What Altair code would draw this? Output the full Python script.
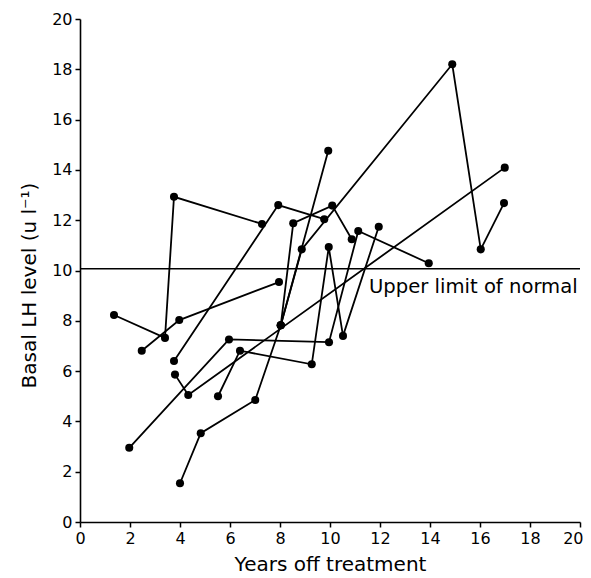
import altair as alt
import pandas as pd

# Each patient: years off treatment (x) and basal LH level (y)
p1_x = [1.36, 3.40, 3.76, 7.28]
p1_y = [8.23, 7.32, 12.93, 11.85]
p2_x = [2.47, 3.97, 7.96]
p2_y = [6.81, 8.03, 9.54]
p3_x = [3.76, 7.93, 9.77]
p3_y = [6.40, 12.60, 12.04]
p4_x = [3.80, 4.33, 16.99]
p4_y = [5.86, 5.05, 14.09]
p5_x = [1.97, 5.96, 9.96, 11.13, 13.95]
p5_y = [2.95, 7.26, 7.15, 11.57, 10.29]
p6_x = [5.52, 6.40, 9.27, 9.95, 10.52, 11.95]
p6_y = [5.00, 6.81, 6.27, 10.93, 7.40, 11.74]
p7_x = [4.00, 4.83, 7.01, 8.03, 9.93]
p7_y = [1.54, 3.53, 4.85, 7.82, 14.76]
p8_x = [8.03, 8.53, 10.09, 10.87]
p8_y = [7.82, 11.88, 12.58, 11.24]
p9_x = [8.03, 8.87, 14.89, 16.03, 16.96]
p9_y = [7.82, 10.84, 18.20, 10.84, 12.68]

upper_limit = 10.07
limit_label = "Upper limit of normal"
label_x = 11.56
label_y = 9.1
ticks = [0, 2, 4, 6, 8, 10, 12, 14, 16, 18, 20]

series = [("P1", p1_x, p1_y), ("P2", p2_x, p2_y), ("P3", p3_x, p3_y),
          ("P4", p4_x, p4_y), ("P5", p5_x, p5_y), ("P6", p6_x, p6_y),
          ("P7", p7_x, p7_y), ("P8", p8_x, p8_y), ("P9", p9_x, p9_y)]

rows = []
for pid, xs, ys in series:
    for i, (xv, yv) in enumerate(zip(xs, ys)):
        rows.append({"patient": pid, "step": i, "years": xv, "lh": yv})
df = pd.DataFrame(rows)

FONT = "DejaVu Sans"
xs_ = alt.Scale(domain=[0, 20], nice=False, zero=False)
ys_ = alt.Scale(domain=[0, 20], nice=False, zero=False)

axis_common = dict(values=ticks, grid=False, domainColor="black", domainWidth=1.6,
                   tickColor="black", tickWidth=1.5, tickSize=5,
                   labelFont=FONT, labelFontSize=16, labelColor="black",
                   titleFont=FONT, titleFontSize=20, titleFontWeight="normal",
                   titleColor="black", labelOverlap=False, labelFlush=False)

x_enc = alt.X("years:Q", scale=xs_,
              axis=alt.Axis(title="Years off treatment", labelPadding=3, titlePadding=8,
                            labelAlign={"condition": {"test": "datum.value >= 20", "value": "right"},
                                        "value": "center"},
                            labelOffset={"condition": {"test": "datum.value >= 20", "value": 3},
                                         "value": 0},
                            **axis_common))
y_enc = alt.Y("lh:Q", scale=ys_,
              axis=alt.Axis(title="Basal LH level (u l\u207b\u00b9)", labelPadding=3, titlePadding=12,
                            titleY=266, **axis_common))

lines = alt.Chart(df).mark_line(color="black", strokeWidth=1.8).encode(
    x=x_enc, y=y_enc, detail="patient:N", order="step:Q")
points = alt.Chart(df).mark_circle(color="black", size=65, opacity=1).encode(
    x=x_enc, y=y_enc)

limit_df = pd.DataFrame({"lh": [upper_limit]})
rule = alt.Chart(limit_df).mark_rule(color="black", strokeWidth=1.4).encode(
    y=alt.Y("lh:Q", scale=ys_))

label_df = pd.DataFrame({"years": [label_x], "lh": [label_y], "text": [limit_label]})
label = alt.Chart(label_df).mark_text(align="left", baseline="alphabetic", font=FONT,
                                      fontSize=19.6, color="black").encode(
    x=alt.X("years:Q", scale=xs_), y=alt.Y("lh:Q", scale=ys_), text="text:N")

chart = alt.layer(rule, lines, points, label).properties(
    width=500, height=503,
    autosize=alt.AutoSizeParams(type="none"),
    padding={"left": 72, "top": 11, "right": 3, "bottom": 54},
    background="white",
).configure_view(stroke=None)

chart.save("out.html", embed_options={"renderer": "svg", "actions": False})
